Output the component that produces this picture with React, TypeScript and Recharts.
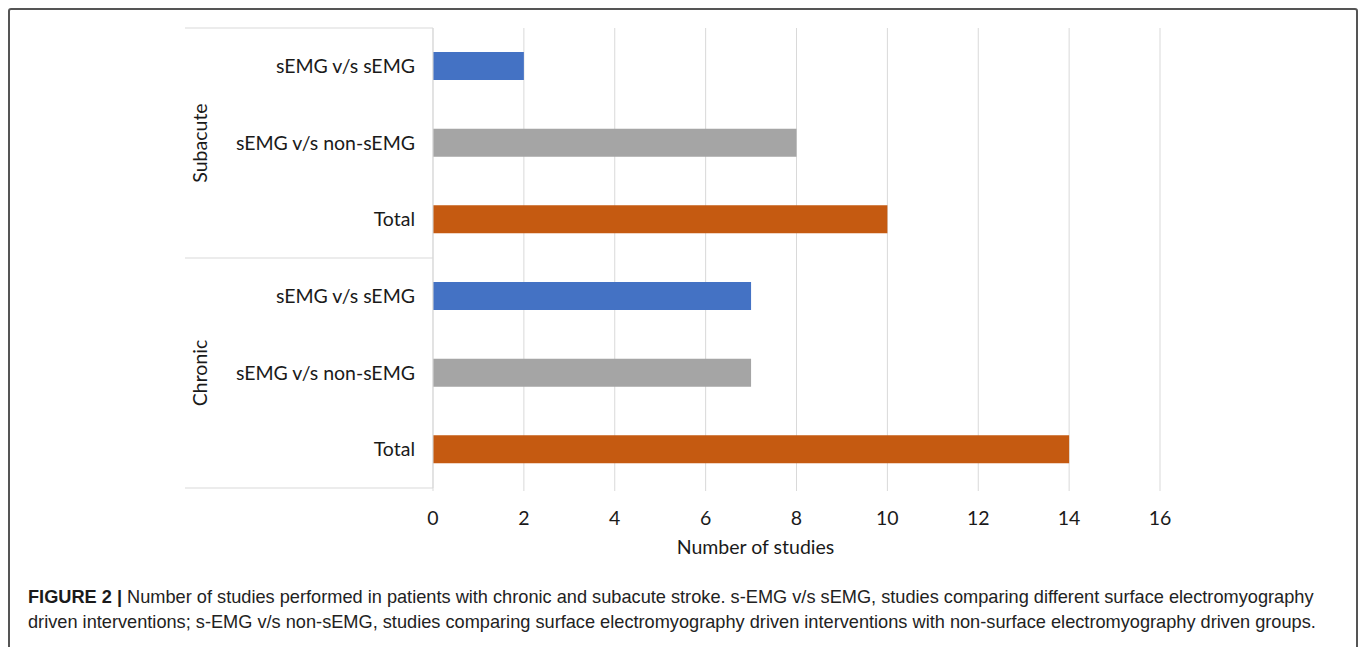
import { Bar, BarChart, CartesianGrid, Cell, XAxis, YAxis } from 'recharts'

// rows are listed top to bottom
const groups = ['Subacute', 'Subacute', 'Subacute', 'Chronic', 'Chronic', 'Chronic']
const categories = [
  'sEMG v/s sEMG',
  'sEMG v/s non-sEMG',
  'Total',
  'sEMG v/s sEMG',
  'sEMG v/s non-sEMG',
  'Total',
]
const studies = [2, 8, 10, 7, 7, 14]
const xTicks = [0, 2, 4, 6, 8, 10, 12, 14, 16]
const rowColors = ['#4472C4', '#A5A5A5', '#C55A11', '#4472C4', '#A5A5A5', '#C55A11']

const W = 1358
const H = 560
const MARGIN = { top: 28, right: 198, bottom: 27, left: 185 }
const X_AXIS_H = 45
const Y_AXIS_W = 248
const PLOT_LEFT = MARGIN.left + Y_AXIS_W
const PLOT_H = H - MARGIN.top - MARGIN.bottom - X_AXIS_H
const ROW_HALF = PLOT_H / categories.length / 2
const FONT = 'Lato, "Open Sans", sans-serif'
const FS = 19.5
const TEXT = '#1a1a1a'
const GRID = '#d9d9d9'

const data = categories.map((c, i) => ({ label: c, group: groups[i], value: studies[i] }))

function RowTick(props: any) {
  const { y, index } = props
  const g = groups[index]
  const first = index === 0 || groups[index - 1] !== g
  const last = index === groups.length - 1
  const count = groups.filter((x) => x === g).length
  const middle = groups.indexOf(g) + Math.floor(count / 2) === index
  return (
    <g>
      <text
        x={PLOT_LEFT - 18}
        y={y}
        dy="0.35em"
        textAnchor="end"
        fontSize={FS}
        fontFamily={FONT}
        fill={TEXT}
      >
        {categories[index]}
      </text>
      {first && (
        <line x1={MARGIN.left} x2={PLOT_LEFT} y1={y - ROW_HALF} y2={y - ROW_HALF} stroke={GRID} />
      )}
      {last && (
        <line x1={MARGIN.left} x2={PLOT_LEFT} y1={y + ROW_HALF} y2={y + ROW_HALF} stroke={GRID} />
      )}
      {middle && (
        <text
          x={MARGIN.left + 15}
          y={y}
          transform={`rotate(-90 ${MARGIN.left + 15} ${y})`}
          dy="0.35em"
          textAnchor="middle"
          fontSize={FS}
          fontFamily={FONT}
          fill={TEXT}
        >
          {g}
        </text>
      )}
    </g>
  )
}

function AxisTitle(props: any) {
  const { viewBox } = props
  const cx = viewBox.x + viewBox.width / 2 - 41
  return (
    <text x={cx} y={547} dy="0.35em" textAnchor="middle" fontSize={FS} fontFamily={FONT} fill={TEXT}>
      Number of studies
    </text>
  )
}

export default function App() {
  return (
    <div style={{ position: 'absolute', left: 0, top: 0, width: W, height: 647, background: '#fff', overflow: 'hidden' }}>
      <div
        style={{
          position: 'absolute',
          left: 8,
          top: 8,
          width: 1346,
          height: 680,
          border: '2px solid #555',
          borderRadius: 3,
        }}
      />
      <div style={{ position: 'absolute', left: 0, top: 0 }}>
        <BarChart width={W} height={H} data={data} layout="vertical" margin={MARGIN} barSize={28}>
          <CartesianGrid vertical horizontal={false} stroke={GRID} />
          <XAxis
            type="number"
            domain={[0, 16]}
            ticks={xTicks}
            height={X_AXIS_H}
            axisLine={false}
            tickLine={{ stroke: GRID }}
            tickSize={3}
            tickMargin={20}
            tick={{ fontSize: FS, fill: TEXT, fontFamily: FONT }}
            interval={0}
            label={<AxisTitle />}
          />
          <YAxis
            type="category"
            dataKey="label"
            width={Y_AXIS_W}
            axisLine={{ stroke: GRID }}
            tickLine={false}
            tick={<RowTick />}
            interval={0}
          />
          <Bar dataKey="value" isAnimationActive={false}>
            {data.map((d, i) => (
              <Cell key={i} fill={rowColors[i]} />
            ))}
          </Bar>
        </BarChart>
      </div>
      <div
        style={{
          position: 'absolute',
          left: 28,
          top: 585,
          fontFamily: '"Liberation Sans Narrow", "Liberation Sans", sans-serif',
          fontSize: 18.2,
          lineHeight: '25px',
          color: '#222',
          whiteSpace: 'nowrap',
        }}
      >
        <div>
          <b style={{ color: '#1a1a1a' }}>FIGURE 2 |</b> Number of studies performed in patients with chronic and
          subacute stroke. s-EMG v/s sEMG, studies comparing different surface electromyography
        </div>
        <div>
          driven interventions; s-EMG v/s non-sEMG, studies comparing surface electromyography driven interventions
          with non-surface electromyography driven groups.
        </div>
      </div>
    </div>
  )
}
